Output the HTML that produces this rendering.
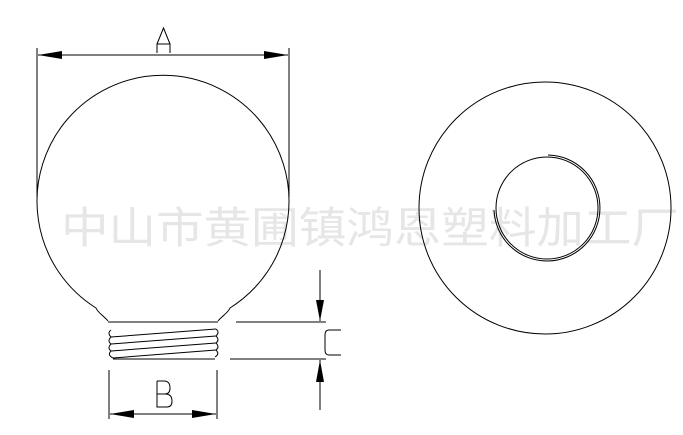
<!DOCTYPE html>
<html><head><meta charset="utf-8"><style>
html,body{margin:0;padding:0;background:#fff;width:683px;height:435px;overflow:hidden}
svg{display:block}
</style></head><body>
<svg width="683" height="435" viewBox="0 0 683 435" xmlns="http://www.w3.org/2000/svg">
<text x="370" y="243" text-anchor="middle" font-family="'Liberation Sans','Noto Sans CJK SC',sans-serif" font-size="43" fill="#e6e6e6" textLength="618" lengthAdjust="spacingAndGlyphs">中山市黄圃镇鸿恩塑料加工厂</text>
<g fill="none" stroke="#000" stroke-width="1">
<line x1="37" y1="48" x2="37" y2="197"/>
<line x1="289" y1="48" x2="289" y2="197"/>
<line x1="38" y1="55" x2="288" y2="55"/>
<path d="M157,53 V44 H170 V53 M157,44 L163.5,28 L170,44"/>
<path d="M108,321 C104,316 98,313 96,308 A126,126 0 1 1 230,308 C228,313 222,316 218,321"/>
<line x1="108" y1="322" x2="218" y2="322"/>
<path d="M111,330 Q107,333 111,337 Q107,341 111,344 Q107,348 111,351 Q107,355 113,358"/>
<path d="M216,329 Q220,332 216,336 Q220,340 216,343 Q220,347 216,350 Q220,354 215,357"/>
<line x1="111" y1="337" x2="216" y2="329"/>
<line x1="111" y1="344" x2="216" y2="336"/>
<line x1="111" y1="351" x2="216" y2="343"/>
<line x1="113" y1="358" x2="216" y2="350"/>
<line x1="113" y1="359" x2="215" y2="359"/>
<line x1="236" y1="322" x2="326" y2="322"/>
<line x1="230" y1="359" x2="326" y2="359"/>
<line x1="320" y1="270" x2="320" y2="321"/>
<line x1="320" y1="360" x2="320" y2="410"/>
<path d="M341,330 H329 Q325,330 325,335 V350 Q325,355 329,355 H341"/>
<line x1="109" y1="370" x2="109" y2="419"/>
<line x1="217" y1="370" x2="217" y2="419"/>
<line x1="110" y1="414" x2="216" y2="414"/>
<path d="M157,381 V407 H167 Q172,407 172,401 Q172,394 165,394 H157 M165,394 Q170,394 170,388 Q170,381 164,381 H157"/>
<circle cx="545" cy="208" r="126"/>
<circle cx="547" cy="208" r="51"/>
<path d="M548,155 A53,53 0 1 1 494,210"/>
</g>
<g fill="#000">
<polygon points="38,55 62,51 62,59"/>
<polygon points="288,55 264,51 264,59"/>
<polygon points="320,321 316,300 324,300"/>
<polygon points="320,360 316,382 324,382"/>
<polygon points="110,414 134,410 134,418"/>
<polygon points="216,414 192,410 192,418"/>
</g>
</svg>
</body></html>
